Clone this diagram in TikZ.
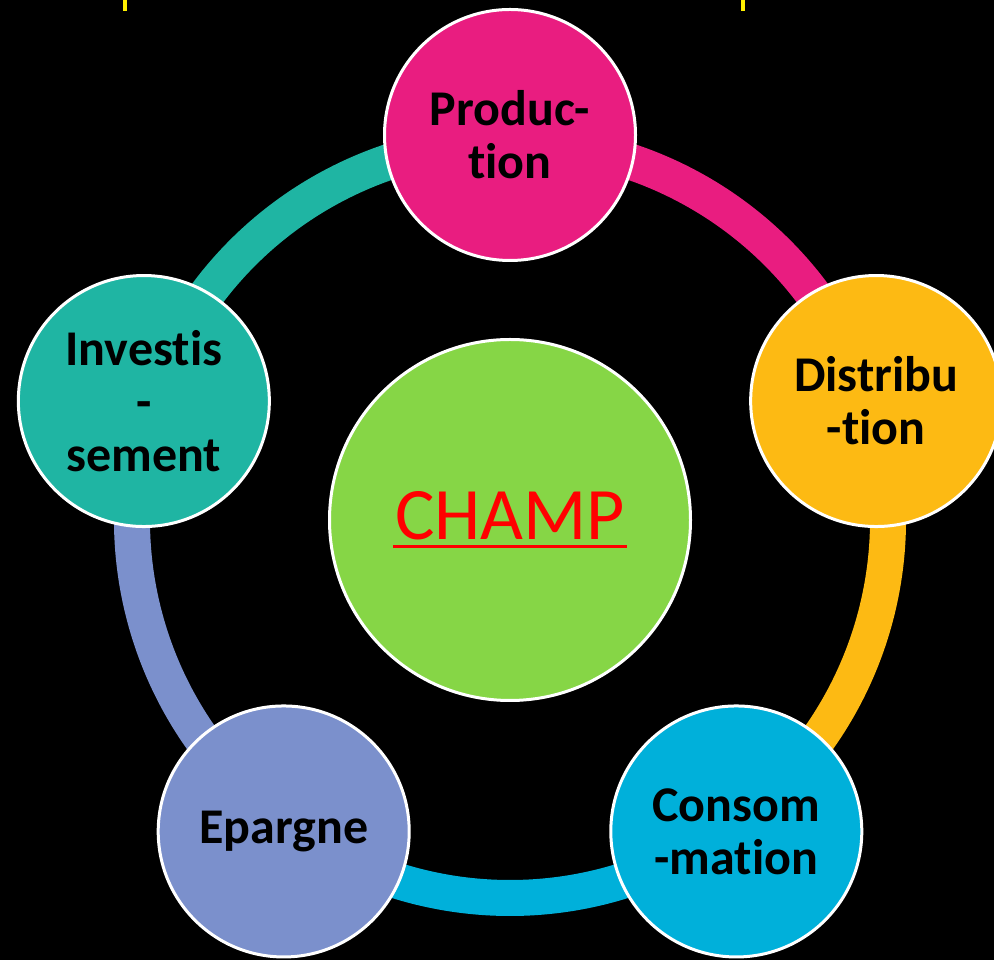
\documentclass[tikz,border=0pt]{standalone}
\usepackage[x11names, svgnames, rgb]{xcolor}
\usepackage{fontspec}
\setmainfont{Carlito}[Ligatures=NoCommon]
\usetikzlibrary{positioning,calc,arrows,backgrounds}

\definecolor{prodcol}{RGB}{233,29,128}
\definecolor{distcol}{RGB}{253,186,19}
\definecolor{conscol}{RGB}{0,176,218}
\definecolor{eparcol}{RGB}{123,144,204}
\definecolor{invcol}{RGB}{31,181,163}
\definecolor{champcol}{RGB}{134,214,70}
\definecolor{markcol}{RGB}{255,240,0}

% thick underline
\newcommand{\thickuline}[1]{\setbox0\hbox{#1}\rlap{\hskip-2bp\rule[-8.5bp]{\dimexpr\wd0+4bp\relax}{3bp}}\box0}

\tikzset{
  orb/.style={circle, draw=white, line width=3bp, minimum size=251bp, inner sep=0pt,
    align=center, font=\fontsize{50bp}{53bp}\selectfont\bfseries, text=black},
  ring/.style={line width=36bp, draw=#1},
}

\begin{document}
\begin{tikzpicture}[>=latex',line join=bevel]
          \pgfsetlinewidth{1bp}
        \useasboundingbox (0bp,0bp) rectangle (994bp,960bp);
        \clip (0bp,0bp) rectangle (994bp,960bp);
          % Node: champ
          \node[orb, minimum size=361bp, fill=champcol, text=red,
            font=\fontsize{74bp}{80bp}\selectfont] (champ) at (510bp,440bp) {\thickuline{CHAMP}};
          % Node: prod
          \node[orb, fill=prodcol] (prod) at ([shift={(90:385bp)}]champ.center) {Produc-\\tion};
          % Node: dist
          \node[orb, fill=distcol] (dist) at ([shift={(18:385bp)}]champ.center) {Distribu\\-tion};
          % Node: cons
          \node[orb, fill=conscol] (cons) at ([shift={(-54:385bp)}]champ.center) {Consom\\-mation};
          % Node: epar
          \node[orb, fill=eparcol] (epar) at ([shift={(-126:385bp)}]champ.center) {Epargne};
          % Node: inv
          \node[orb, fill=invcol] (inv) at ([shift={(162:385bp)}]champ.center) {Investis\\-\\sement};
        %%
        \begin{scope}[on background layer]
          \fill[black] (0bp,0bp) rectangle (994bp,960bp);
          \fill[markcol] (123bp,949bp) rectangle (127bp,960bp);
          \fill[markcol] (741bp,949bp) rectangle (745bp,960bp);
          % Edge: prod -> dist
          \draw[ring=prodcol] ([shift={(90:378bp)}]champ.center) arc[start angle=90, end angle=18, radius=378bp];
          % Edge: dist -> cons
          \draw[ring=distcol] ([shift={(18:378bp)}]champ.center) arc[start angle=18, end angle=-54, radius=378bp];
          % Edge: cons -> epar
          \draw[ring=conscol] ([shift={(-54:378bp)}]champ.center) arc[start angle=-54, end angle=-126, radius=378bp];
          % Edge: epar -> inv
          \draw[ring=eparcol] ([shift={(-126:378bp)}]champ.center) arc[start angle=-126, end angle=-198, radius=378bp];
          % Edge: inv -> prod
          \draw[ring=invcol] ([shift={(162:378bp)}]champ.center) arc[start angle=162, end angle=90, radius=378bp];
        \end{scope}
        %
\end{tikzpicture}
\end{document}
